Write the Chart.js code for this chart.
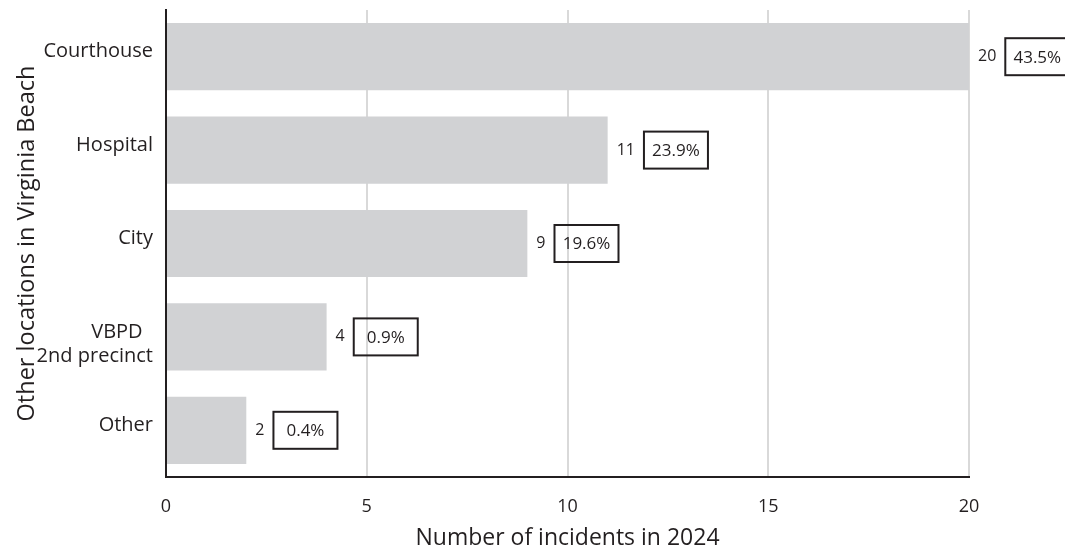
<!DOCTYPE html>
<html>
<head>
<meta charset="utf-8">
<script src="https://cdn.jsdelivr.net/npm/chart.js@4"></script>
<style>
  html, body { margin: 0; padding: 0; background: #ffffff; }
  #wrap { width: 1065px; height: 552px; }
</style>
</head>
<body>
<div id="wrap"><canvas id="chart" width="1065" height="552"></canvas></div>
<script>
// Incidents at other locations in Virginia Beach, 2024
const locations = ['Courthouse', 'Hospital', 'City', ['', 'VBPD  ', '2nd precinct'], 'Other'];
const incidents = [20, 11, 9, 4, 2];
const shares = ['43.5%', '23.9%', '19.6%', '0.9%', '0.4%'];
const xTicks = [0, 5, 10, 15, 20];

const FONT = 'Open Sans';
const INK = '#231f20';

// Writes the count after each bar, followed by its share in a framed box
const barNotes = {
  id: 'barNotes',
  afterDatasetsDraw(chart) {
    const ctx = chart.ctx;
    const meta = chart.getDatasetMeta(0);
    ctx.save();
    ctx.fillStyle = INK;
    ctx.textBaseline = 'middle';
    meta.data.forEach((bar, i) => {
      const count = String(incidents[i]);
      const tx = bar.x + 9;
      ctx.font = '16px "' + FONT + '"';
      ctx.textAlign = 'left';
      ctx.fillText(count, tx, bar.y);
      const tw = ctx.measureText(count).width;
      const bx = tx + tw + 9;
      const bw = 64, bh = 37;
      ctx.lineWidth = 2;
      ctx.strokeStyle = INK;
      ctx.strokeRect(bx, bar.y - bh / 2, bw, bh);
      ctx.font = '17px "' + FONT + '"';
      ctx.textAlign = 'center';
      ctx.fillText(shares[i], bx + bw / 2, bar.y + 1);
    });
    ctx.restore();
  }
};

new Chart(document.getElementById('chart'), {
  type: 'bar',
  data: {
    labels: locations,
    datasets: [{
      data: incidents,
      backgroundColor: '#d1d2d4',
      borderWidth: 0,
      barPercentage: 0.9,
      categoryPercentage: 0.8
    }]
  },
  options: {
    indexAxis: 'y',
    responsive: false,
    animation: false,
    layout: { padding: { top: 10, right: 96, left: 0, bottom: 0 } },
    plugins: { legend: { display: false }, tooltip: { enabled: false } },
    scales: {
      x: {
        min: 0,
        max: 20,
        afterBuildTicks(scale) { scale.ticks = xTicks.map(v => ({ value: v })); },
        afterFit(scale) { scale.height = 75; scale.paddingLeft = 0; scale.paddingRight = 0; },
        grid: { color: '#d9d9d9', lineWidth: 2, drawTicks: false },
        border: { display: true, color: INK, width: 2 },
        ticks: { color: INK, font: { family: FONT, size: 18 }, padding: 19 },
        title: {
          display: true,
          text: 'Number of incidents in 2024',
          color: INK,
          font: { family: FONT, size: 23 },
          padding: { top: 0, bottom: 0 }
        }
      },
      y: {
        afterFit(scale) { scale.width = 166; scale.paddingTop = 0; scale.paddingBottom = 0; },
        grid: { color: 'rgba(0,0,0,0)', drawTicks: false },
        border: { display: true, color: INK, width: 2 },
        ticks: {
          color: INK,
          font: { family: FONT, size: 20, lineHeight: 1.2 },
          padding: 13,
          labelOffset: -5
        },
        title: {
          display: true,
          text: 'Other locations in Virginia Beach',
          color: INK,
          font: { family: FONT, size: 23.5 },
          padding: { top: 13, bottom: 0 }
        }
      }
    }
  },
  plugins: [barNotes]
});
</script>
</body>
</html>
